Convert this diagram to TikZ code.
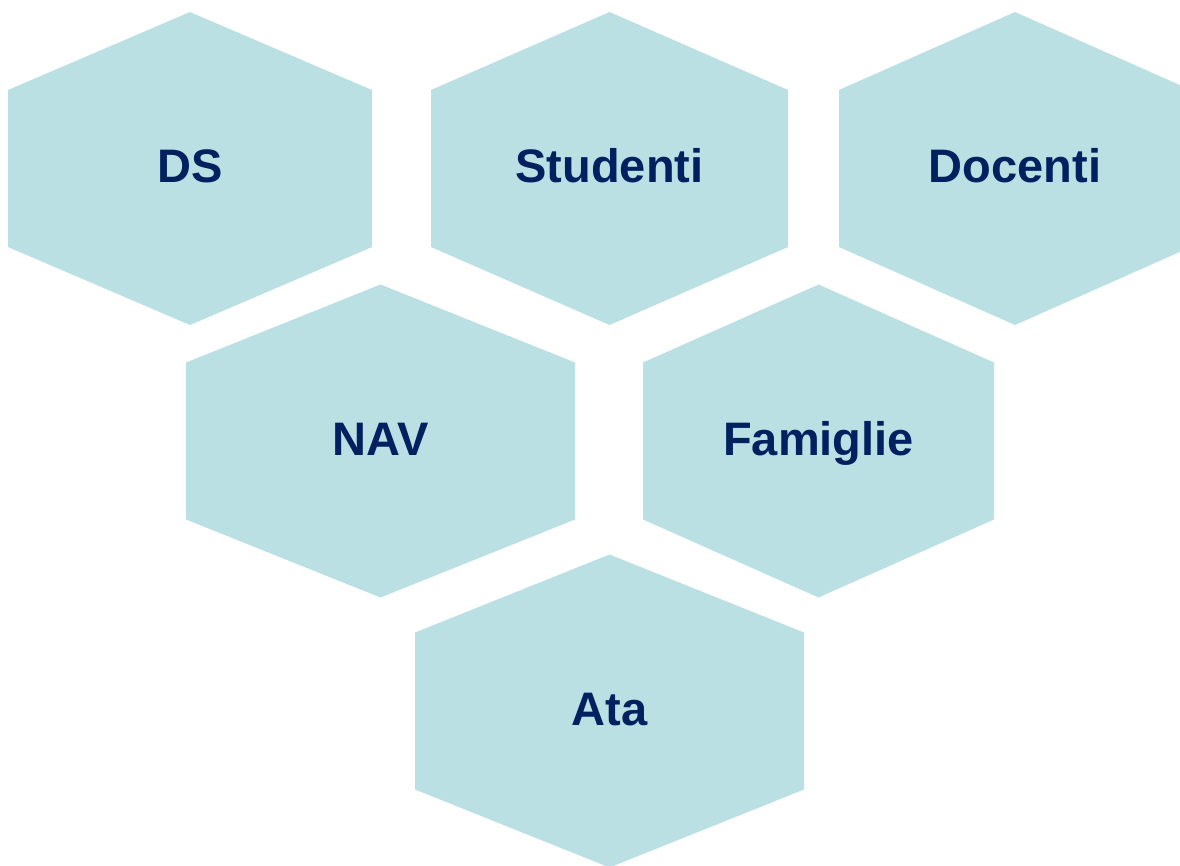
\documentclass[tikz,border=0pt]{standalone}
\usepackage{fontspec}
\setmainfont{Liberation Sans}
\definecolor{hexcol}{HTML}{BBE0E3}
\definecolor{txtcol}{HTML}{002060}
\newcommand\hexshape[3]{%
  \fill[hexfill] ({#1},{#2-156.5}) -- ({#1+#3},{#2-78.5}) -- ({#1+#3},{#2+78.5})
    -- ({#1},{#2+156.5}) -- ({#1-#3},{#2+78.5}) -- ({#1-#3},{#2-78.5}) -- cycle;}
\begin{document}
\begin{tikzpicture}[x=1pt,y=-1pt,
  hexfill/.style={fill=hexcol},
  lbl/.style={text=txtcol,font=\fontsize{47}{56}\selectfont\bfseries,anchor=base,inner sep=0pt}]
\useasboundingbox (0,0) rectangle (1180,865);
\clip (0,0) rectangle (1180,865);
\hexshape{190}{168.5}{182}
\hexshape{609.5}{168.5}{178.5}
\hexshape{1015}{168.5}{176}
\hexshape{380.5}{441}{194.5}
\hexshape{818.5}{441}{175.5}
\hexshape{609.5}{711}{194.5}
\node[lbl] (ds) at (190,182.7) {DS};
\node[lbl] (studenti) at (609.5,182.7) {Studenti};
\node[lbl] (docenti) at (1015,182.7) {Docenti};
\node[lbl] (nav) at (380.5,455.7) {NAV};
\node[lbl] (famiglie) at (818.5,455.7) {Famiglie};
\node[lbl] (ata) at (609.5,725.7) {Ata};
\end{tikzpicture}
\end{document}
